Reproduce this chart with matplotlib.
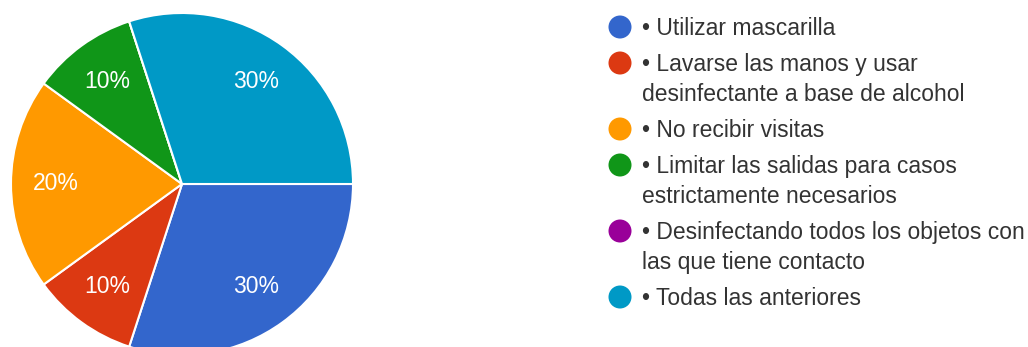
import matplotlib
matplotlib.use("Agg")
import matplotlib.pyplot as plt
from matplotlib.patches import Circle

# Survey answers: counts per option (10 respondents)
options = [
    ["• Utilizar mascarilla"],
    ["• Lavarse las manos y usar", "desinfectante a base de alcohol"],
    ["• No recibir visitas"],
    ["• Limitar las salidas para casos", "estrictamente necesarios"],
    ["• Desinfectando todos los objetos con", "las que tiene contacto"],
    ["• Todas las anteriores"],
]
counts = [3, 1, 2, 1, 0, 3]
colors = ["#3366CC", "#DC3912", "#FF9900", "#109618", "#990099", "#0099C6"]

W, H = 1028, 347
DPI = 100
plt.rcParams["font.family"] = ["Liberation Sans", "DejaVu Sans"]

fig = plt.figure(figsize=(W / DPI, H / DPI), dpi=DPI)
fig.patch.set_facecolor("white")

# Pie: centre (182, 184) px from top-left, radius 171 px
cx, cy, r = 182, 184, 171
ax = fig.add_axes([(cx - r) / W, (H - cy - r) / H, 2 * r / W, 2 * r / H])


def pct_label(p):
    return f"{p:.0f}%" if p > 0.5 else ""


wedges, texts, autotexts = ax.pie(
    counts,
    colors=colors,
    startangle=0,
    counterclock=False,
    radius=1.0,
    autopct=pct_label,
    pctdistance=0.74,
    wedgeprops=dict(edgecolor="white", linewidth=1.5),
    textprops=dict(color="white", fontsize=16.5),
)
ax.set_xlim(-1, 1)
ax.set_ylim(-1, 1)
ax.set_aspect("auto")
ax.axis("off")

# Legend drawn in pixel coordinates
lax = fig.add_axes([0, 0, 1, 1])
lax.set_xlim(0, W)
lax.set_ylim(H, 0)
lax.axis("off")

y = 27
for lines, col in zip(options, colors):
    lax.add_patch(Circle((620, y), 11.5, facecolor=col, edgecolor="none"))
    for i, line in enumerate(lines):
        lax.text(642, y + 8 + 30 * i, line, fontsize=16.5, color="#333333",
                 va="baseline", ha="left")
    y += 30 * (len(lines) - 1) + 36

fig.savefig("out.png", dpi=DPI, facecolor="white")
